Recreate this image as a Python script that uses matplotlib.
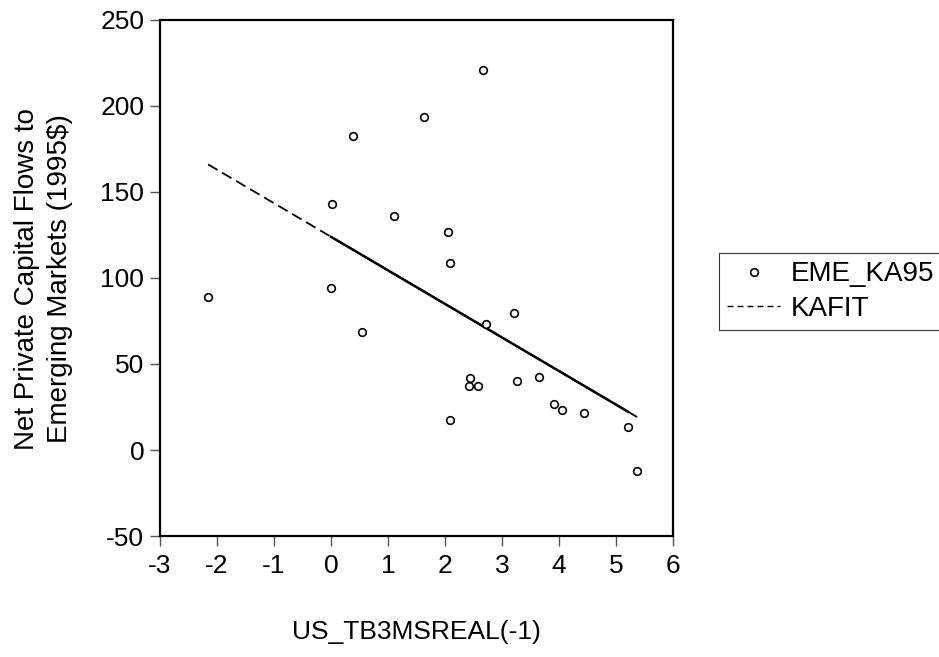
import numpy as np
import matplotlib
matplotlib.use("Agg")
import matplotlib.pyplot as plt

plt.rcParams['font.family'] = ['Liberation Sans', 'DejaVu Sans']
plt.rcParams['axes.unicode_minus'] = False

# values
us_tb3msreal = [-2.150, 0.004, 0.029, 0.389, 0.544, 1.103, 1.624, 2.059, 2.084, 2.096,
                2.425, 2.431, 2.574, 2.667, 2.711, 3.207, 3.263, 3.654, 3.915, 4.052,
                4.430, 5.200, 5.368]
eme_ka95 = [88.7, 94.2, 142.8, 182.7, 68.3, 135.8, 193.3, 126.4, 108.6, 17.6,
            37.2, 42.1, 37.2, 220.5, 73.0, 79.8, 39.9, 42.3, 26.8, 23.1,
            21.5, 13.1, -12.1]
x_ticks = [-3, -2, -1, 0, 1, 2, 3, 4, 5, 6]
y_ticks = [-50, 0, 50, 100, 150, 200, 250]

x = np.array(us_tb3msreal)
y = np.array(eme_ka95)

# KAFIT = OLS fitted values
slope, icept = np.polyfit(x, y, 1)
xs = np.sort(x)
kafit = icept + slope * xs

fig = plt.figure(figsize=(9.39, 6.57), dpi=100)
ax = fig.add_axes([0.170, 0.184, 0.547, 0.786])

ax.plot(x, y, 'o', ms=5.5, mfc='white', mec='black', mew=1.2, label='EME_KA95', zorder=3)

# dashed over full range, dense overlapping part looks solid in the original
ax.plot(xs, kafit, color='black', lw=1.3, dashes=(6, 3), zorder=2)
ax.plot(xs[1:-1], kafit[1:-1], color='black', lw=1.8, zorder=2)
ax.plot([], [], color='black', lw=1.0, dashes=(4.3, 2.9), label='KAFIT')

ax.set_xlim(-3, 6)
ax.set_ylim(-50, 250)
ax.set_xticks(x_ticks)
ax.set_yticks(y_ticks)
ax.tick_params(direction='out', length=7, width=1, color='#555555',
               labelsize=19, pad=4)
ax.tick_params(axis='x', pad=6)
for s in ax.spines.values():
    s.set_linewidth(1.6)

fig.text(416 / 939, 1 - 632 / 657, 'US_TB3MSREAL(-1)', fontsize=19,
         ha='center', va='center')
fig.text(44 / 939, 1 - 279 / 657, 'Net Private Capital Flows to\nEmerging Markets (1995$)',
         fontsize=20, rotation=90, ha='center', va='center', linespacing=1.35,
         multialignment='center')

leg = fig.legend(loc='upper left', bbox_to_anchor=(719 / 939, 1 - 253 / 657),
                 fontsize=20, frameon=True, fancybox=False, handlelength=1.9,
                 borderpad=0.3, labelspacing=0.3, handletextpad=0.4,
                 borderaxespad=0)
leg.get_frame().set_edgecolor('black')
leg.get_frame().set_linewidth(0.8)

fig.savefig('out.png', dpi=100)
